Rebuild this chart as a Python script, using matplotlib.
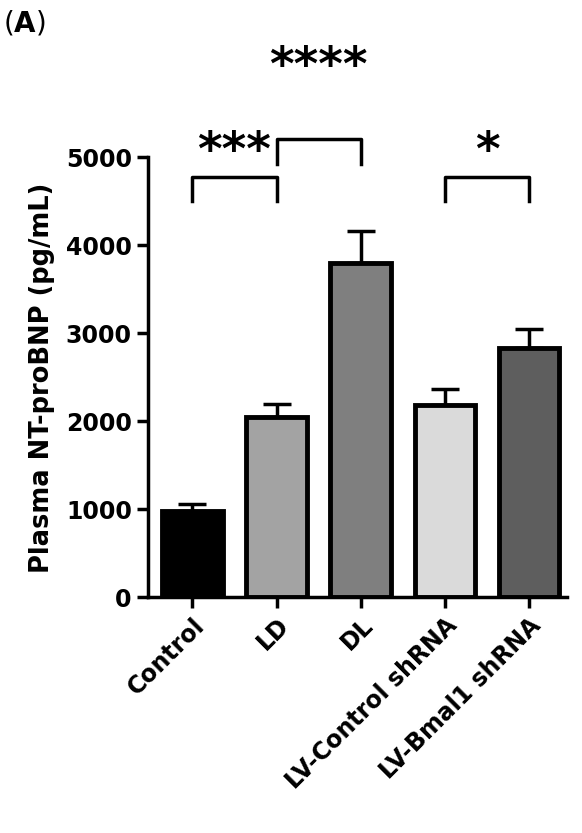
import matplotlib
matplotlib.use("Agg")
import matplotlib.pyplot as plt

# values
groups = ["Control", "LD", "DL", "LV-Control shRNA", "LV-Bmal1 shRNA"]
means = [980, 2050, 3800, 2180, 2830]
errors = [80, 150, 360, 190, 220]
colors = ["#000000", "#a3a3a3", "#7f7f7f", "#dadada", "#5e5e5e"]
yticks = [0, 1000, 2000, 3000, 4000, 5000]

# significance brackets: (left bar, right bar, top, leg bottom, label, text offset)
brackets = [(0, 1, 4780, 4500, "***", 20), (1, 2, 5210, 4930, "****", 560),
            (3, 4, 4780, 4500, "*", 20)]

fig = plt.figure(figsize=(5.82, 8.33), dpi=100)
ax = fig.add_axes([0.254, 0.283, 0.72, 0.528])

x = range(len(groups))
ax.bar(x, means, width=0.72, color=colors, edgecolor="black", linewidth=3.5, zorder=2)
ax.errorbar(x, means, yerr=[[0] * len(errors), errors], fmt="none", ecolor="black",
            elinewidth=2.5, capsize=10, capthick=2.5, zorder=1)

for a, b, top, bot, lab, off in brackets:
    ax.plot([a, a, b, b], [bot, top, top, bot], color="black", lw=2.5, clip_on=False)
    ax.text((a + b) / 2, top + off, lab, ha="center", va="bottom", fontsize=34,
            fontweight="bold")

ax.set_xlim(-0.53, 4.45)
ax.set_ylim(0, 5000)
ax.set_yticks(yticks)
ax.set_yticklabels([str(t) for t in yticks], fontsize=17, fontweight="heavy")
ax.set_xticks(list(x))
ax.set_xticklabels(groups, rotation=45, ha="right", rotation_mode="anchor",
                   fontsize=17, fontweight="heavy")
ax.set_ylabel("Plasma NT-proBNP (pg/mL)", fontsize=18.5, fontweight="heavy", labelpad=8)
for s in ["top", "right"]:
    ax.spines[s].set_visible(False)
for s in ["left", "bottom"]:
    ax.spines[s].set_linewidth(2.5)
ax.tick_params(width=2.5, length=8)

fig.text(0.005, 0.972, r"($\bf{A}$)", fontsize=20, va="center")

fig.savefig("out.png", dpi=100)
